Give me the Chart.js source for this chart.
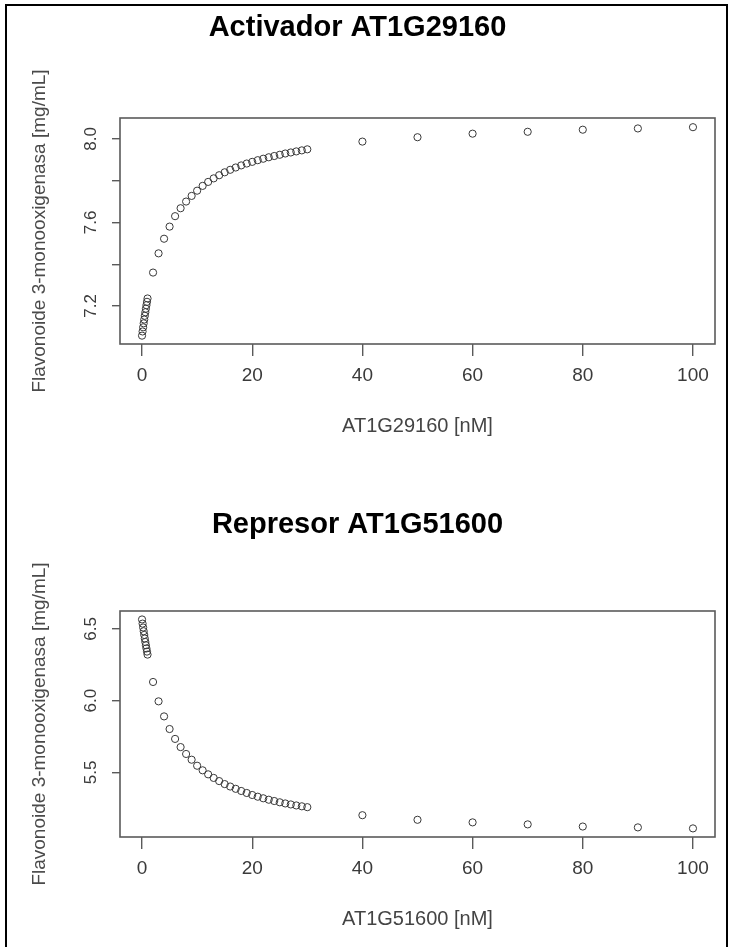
<!DOCTYPE html>
<html>
<head>
<meta charset="utf-8">
<script src="https://cdn.jsdelivr.net/npm/chart.js@4.4.1/dist/chart.umd.min.js"></script>
<style>
  html, body { margin: 0; padding: 0; background: #fff; }
  #page { position: relative; width: 730px; height: 947px; overflow: hidden; background: #fff; }
  #frame { position: absolute; left: 5px; top: 4px; width: 723px; height: 980px;
           border: 2px solid #000; border-bottom: none; box-sizing: border-box; pointer-events: none; }
  .panel { position: absolute; left: 0; width: 730px; height: 460px; }
</style>
</head>
<body>
<div id="page">
  <div class="panel" style="top:0"><canvas id="c1" width="730" height="460"></canvas></div>
  <div class="panel" style="top:493px"><canvas id="c2" width="730" height="460"></canvas></div>
  <div id="frame"></div>
</div>
<script>
// Concentration of the regulator (nM)
const concentracion = [
  0, 0.1, 0.2, 0.3, 0.4, 0.5, 0.6, 0.7, 0.8, 0.9, 1,
  2, 3, 4, 5, 6, 7, 8, 9, 10, 11, 12, 13, 14, 15, 16, 17, 18, 19, 20,
  21, 22, 23, 24, 25, 26, 27, 28, 29, 30,
  40, 50, 60, 70, 80, 90, 100
];

// Flavonoide 3-monooxigenasa (mg/mL) under the activator AT1G29160
const activador = [
  7.058, 7.078, 7.098, 7.117, 7.135, 7.153, 7.170, 7.187, 7.204, 7.220, 7.236,
  7.360, 7.452, 7.522, 7.580, 7.630, 7.668, 7.700, 7.727, 7.752,
  7.775, 7.794, 7.811, 7.826, 7.840, 7.852, 7.863, 7.873, 7.882, 7.890,
  7.898, 7.905, 7.912, 7.918, 7.924, 7.930, 7.935, 7.940, 7.945, 7.950,
  7.987, 8.008, 8.025, 8.034, 8.044, 8.050, 8.056
];

// Flavonoide 3-monooxigenasa (mg/mL) under the repressor AT1G51600
const represor = [
  6.566, 6.537, 6.510, 6.484, 6.458, 6.433, 6.409, 6.386, 6.364, 6.342, 6.321,
  6.130, 5.995, 5.890, 5.802, 5.733, 5.676, 5.628, 5.588, 5.546,
  5.514, 5.486, 5.461, 5.439, 5.418, 5.401, 5.385, 5.370, 5.356, 5.342,
  5.330, 5.319, 5.309, 5.300, 5.291, 5.283, 5.276, 5.269, 5.263, 5.257,
  5.201, 5.169, 5.151, 5.137, 5.122, 5.116, 5.109
];

const xTicks = [0, 20, 40, 60, 80, 100];
const yTicksActivador = [7.2, 7.4, 7.6, 7.8, 8.0];
const yLabelsActivador = ['7.2', '', '7.6', '', '8.0'];
const yTicksRepresor = [5.5, 6.0, 6.5];
const yLabelsRepresor = ['5.5', '6.0', '6.5'];

const FAMILY = '"Liberation Sans", Arial, Helvetica, sans-serif';

// Closed frame around the plotting region
const marco = {
  id: 'marco',
  beforeDatasetsDraw(chart) {
    const { ctx, chartArea: a } = chart;
    ctx.save();
    ctx.strokeStyle = '#5a5a5a';
    ctx.lineWidth = 1.6;
    ctx.strokeRect(a.left, a.top, a.right - a.left, a.bottom - a.top);
    ctx.restore();
  }
};

function grafico(id, titulo, tituloX, valores, yMin, yMax, yTicks, yLabels, titleTop) {
  const puntos = concentracion.map((x, i) => ({ x: x, y: valores[i] }));
  return new Chart(document.getElementById(id), {
    type: 'scatter',
    data: {
      datasets: [{
        data: puntos,
        showLine: false,
        pointStyle: 'circle',
        pointRadius: 3.6,
        pointBorderWidth: 1,
        pointBorderColor: '#383838',
        pointBackgroundColor: 'rgba(0,0,0,0)'
      }]
    },
    options: {
      responsive: false,
      animation: false,
      events: [],
      layout: { padding: { left: 0, right: 15, top: 0, bottom: 21.2 } },
      plugins: {
        legend: { display: false },
        tooltip: { enabled: false },
        title: {
          display: true,
          text: titulo,
          color: '#000',
          font: { family: FAMILY, size: 29, weight: 'bold', lineHeight: 1 },
          padding: { top: titleTop, bottom: 89 - titleTop }
        }
      },
      scales: {
        x: {
          type: 'linear',
          position: 'bottom',
          min: -4,
          max: 104,
          afterBuildTicks: s => { s.ticks = xTicks.map(v => ({ value: v })); },
          afterFit: s => { s.height = 94.8; },
          ticks: {
            autoSkip: false,
            minRotation: 0,
            maxRotation: 0,
            color: '#3a3a3a',
            padding: 8,
            font: { family: FAMILY, size: 19 },
            callback: v => String(v)
          },
          grid: { drawOnChartArea: false, drawTicks: true, tickLength: 12, color: '#5a5a5a', lineWidth: 1.4 },
          border: { display: false },
          title: {
            display: true,
            text: tituloX,
            color: '#444',
            font: { family: FAMILY, size: 20, lineHeight: 1.2 },
            padding: { top: 0, bottom: 0 }
          }
        },
        y: {
          type: 'linear',
          position: 'left',
          min: yMin,
          max: yMax,
          afterBuildTicks: s => { s.ticks = yTicks.map(v => ({ value: v })); },
          afterFit: s => { s.width = 120; },
          ticks: {
            autoSkip: false,
            minRotation: 90,
            maxRotation: 90,
            crossAlign: 'center',
            color: '#3a3a3a',
            padding: 9,
            font: { family: FAMILY, size: 17 },
            callback: (v, i) => yLabels[i]
          },
          grid: { drawOnChartArea: false, drawTicks: true, tickLength: 8, color: '#5a5a5a', lineWidth: 1.4 },
          border: { display: false },
          title: {
            display: true,
            text: 'Flavonoide 3-monooxigenasa [mg/mL]',
            color: '#4a4a4a',
            font: { family: FAMILY, size: 19, lineHeight: 1.2 },
            padding: { top: 28.6, bottom: 0 }
          }
        }
      }
    },
    plugins: [marco]
  });
}

grafico('c1', 'Activador AT1G29160', 'AT1G29160 [nM]', activador,
        7.018, 8.100, yTicksActivador, yLabelsActivador, 13.5);
grafico('c2', 'Represor AT1G51600', 'AT1G51600 [nM]', represor,
        5.049, 6.625, yTicksRepresor, yLabelsRepresor, 17);
</script>
</body>
</html>
